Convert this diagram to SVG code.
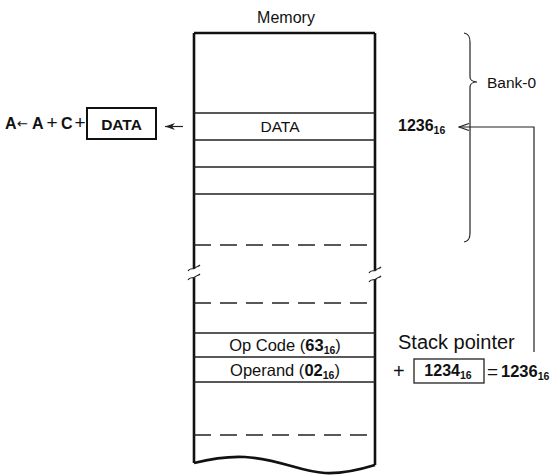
<svg xmlns="http://www.w3.org/2000/svg" width="558" height="475" viewBox="0 0 558 475">
<style>
text{font-family:"Liberation Sans",Arial,sans-serif;fill:#111}
.b{font-weight:bold}
.row{stroke:#222;stroke-width:1.3;fill:none}
.dash{stroke:#222;stroke-width:1.3;stroke-dasharray:17 9;fill:none}
.edge{stroke:#111;stroke-width:2.6;fill:none}
.thin{stroke:#222;stroke-width:1.2;fill:none}
</style>
<defs>
<marker id="open" viewBox="0 0 12 10" refX="11" refY="5" markerWidth="12" markerHeight="10" markerUnits="userSpaceOnUse" orient="auto">
<path d="M1,1.5 L11,5 L1,8.5" fill="none" stroke="#222" stroke-width="1.3"/>
</marker>
<marker id="solid" viewBox="0 0 10 8" refX="10" refY="4" markerWidth="10" markerHeight="8" markerUnits="userSpaceOnUse" orient="auto">
<path d="M10,4 L0,0.5 L3,4 L0,7.5 Z" fill="#222"/>
</marker>
</defs>
<rect width="558" height="475" fill="#fff"/>

<g id="memory">
<text x="286" y="23" font-size="16" text-anchor="middle">Memory</text>
<path class="edge" d="M194,33 H375"/>
<path class="edge" d="M194,33 V268 M194,278 V463"/>
<path class="edge" d="M375,33 V270 M375,279 V465"/>
<path class="edge" d="M194,463 C210,459 225,456 245,457 C280,459 300,472 325,473 C345,474 362,469 375,465"/>
<path class="thin" d="M188,271 C190,267 193,270 195,268 C197,266 198,267 200,265"/>
<path class="thin" d="M188,280 C190,276 193,279 195,277 C197,275 198,276 200,274"/>
<path class="thin" d="M369,273 C371,269 374,272 376,270 C378,268 379,269 381,267"/>
<path class="thin" d="M369,282 C371,278 374,281 376,279 C378,277 379,278 381,276"/>
<path class="row" d="M194,113 H375 M194,140 H375 M194,167 H375 M194,194 H375"/>
<path class="dash" d="M194,245 H375 M194,303 H375 M194,435 H375"/>
<path class="row" d="M194,333 H375 M194,357 H375 M194,382 H375"/>
</g>

<g id="data-cell">
<text x="280" y="131.5" font-size="15.5" text-anchor="middle">DATA</text>
</g>
<g id="opcode-cell">
<text x="285" y="351" font-size="16.5" text-anchor="middle">Op Code (<tspan class="b">63</tspan><tspan class="b" font-size="10.5" dy="3">16</tspan><tspan dy="-3">)</tspan></text>
</g>
<g id="operand-cell">
<text x="285" y="375.5" font-size="16.5" text-anchor="middle">Operand (<tspan class="b">02</tspan><tspan class="b" font-size="10.5" dy="3">16</tspan><tspan dy="-3">)</tspan></text>
</g>

<g id="bank0">
<path class="thin" d="M464,33 C469,34 470,37 470,42 V77 C470,80 473,82 477,82 C473,82 470,84 470,87 V233 C470,238 469,241 464,242"/>
<text x="487" y="88" font-size="15.5">Bank-0</text>
</g>

<g id="addr-label">
<text class="b" x="398" y="131" font-size="16">1236<tspan font-size="10.5" dy="3">16</tspan></text>
</g>

<g id="formula">
<text class="b" y="129" font-size="16"><tspan x="5">A</tspan><tspan x="17" font-weight="normal" font-family="DejaVu Sans" font-size="13" dy="-1">←</tspan><tspan x="32" dy="1">A</tspan><tspan x="46.5" font-weight="normal" font-size="19">+</tspan><tspan x="61">C</tspan><tspan x="74.5" font-weight="normal" font-size="19">+</tspan></text>
<rect x="87" y="108" width="69" height="31" fill="none" stroke="#111" stroke-width="2"/>
<text class="b" x="121.5" y="129.5" font-size="15.5" text-anchor="middle">DATA</text>
</g>

<g id="stack-pointer">
<text x="398" y="349" font-size="20">Stack pointer</text>
<text x="393" y="378" font-size="20">+</text>
<rect x="414" y="359" width="70" height="24" fill="none" stroke="#222" stroke-width="1.3"/>
<text class="b" x="448" y="375.5" font-size="16" text-anchor="middle">1234<tspan font-size="10.5" dy="3">16</tspan></text>
<text x="487" y="378" font-size="19">=</text>
<text class="b" x="501" y="377" font-size="16.5">1236<tspan font-size="10.5" dy="3">16</tspan></text>
</g>

<g id="connectors">
<path class="thin" d="M534,352 V127 H459" marker-end="url(#open)"/>
<path class="thin" d="M183,126.5 H165" marker-end="url(#solid)"/>
</g>
</svg>
